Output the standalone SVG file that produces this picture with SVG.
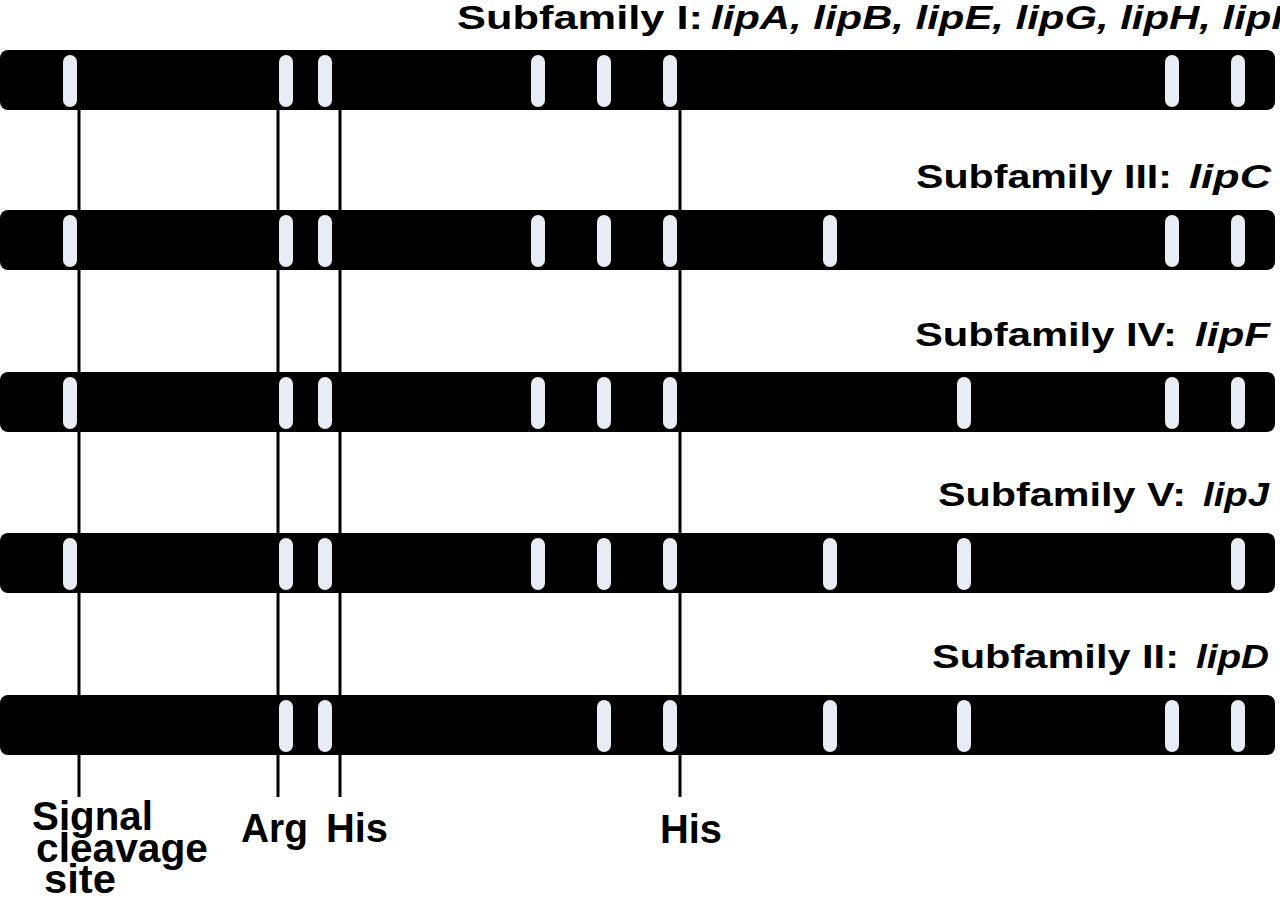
<svg xmlns="http://www.w3.org/2000/svg" width="1280" height="898" viewBox="0 0 1280 898">
<defs>
<style>
.bar{fill:#000}
.st{fill:#e8ecf4}
.lbl{font-family:"Liberation Sans",Arial,sans-serif;font-weight:bold;font-size:34px;fill:#000}
.it{font-style:italic}
.bl{font-family:"Liberation Sans",Arial,sans-serif;font-weight:bold;font-size:40px;fill:#000}
.ln{stroke:#000;stroke-width:3;fill:none}
</style>
<rect id="s" class="st" x="-7" y="5" width="14" height="52" rx="7"/>
</defs>
<rect width="1280" height="898" fill="#fff"/>
<g id="connectors">
<line class="ln" x1="79" y1="108" x2="79" y2="797"/>
<line class="ln" x1="278" y1="108" x2="278" y2="797"/>
<line class="ln" x1="340" y1="108" x2="340" y2="797"/>
<line class="ln" x1="680" y1="108" x2="680" y2="797"/>
</g>
<g id="bar1" transform="translate(0,50)">
<rect class="bar" x="0" y="0" width="1275" height="60" rx="8"/>
<use href="#s" x="70"/><use href="#s" x="286"/><use href="#s" x="325"/><use href="#s" x="538"/><use href="#s" x="604"/><use href="#s" x="670"/><use href="#s" x="1172"/><use href="#s" x="1238"/>
</g>
<g id="label1">
<text class="lbl" x="457" y="29" textLength="246" lengthAdjust="spacingAndGlyphs">Subfamily I:</text>
<text class="lbl it" x="711" y="29" textLength="572" lengthAdjust="spacingAndGlyphs">lipA, lipB, lipE, lipG, lipH, lipI</text>
</g>
<g id="bar2" transform="translate(0,210)">
<rect class="bar" x="0" y="0" width="1275" height="60" rx="8"/>
<use href="#s" x="70"/><use href="#s" x="286"/><use href="#s" x="325"/><use href="#s" x="538"/><use href="#s" x="604"/><use href="#s" x="670"/><use href="#s" x="830"/><use href="#s" x="1172"/><use href="#s" x="1238"/>
</g>
<g id="label2">
<text class="lbl" x="916" y="188" textLength="256" lengthAdjust="spacingAndGlyphs">Subfamily III:</text>
<text class="lbl it" x="1189" y="188" textLength="82" lengthAdjust="spacingAndGlyphs">lipC</text>
</g>
<g id="bar3" transform="translate(0,372)">
<rect class="bar" x="0" y="0" width="1275" height="60" rx="8"/>
<use href="#s" x="70"/><use href="#s" x="286"/><use href="#s" x="325"/><use href="#s" x="538"/><use href="#s" x="604"/><use href="#s" x="670"/><use href="#s" x="964"/><use href="#s" x="1172"/><use href="#s" x="1238"/>
</g>
<g id="label3">
<text class="lbl" x="915" y="346" textLength="262" lengthAdjust="spacingAndGlyphs">Subfamily IV:</text>
<text class="lbl it" x="1195" y="346" textLength="75" lengthAdjust="spacingAndGlyphs">lipF</text>
</g>
<g id="bar4" transform="translate(0,533)">
<rect class="bar" x="0" y="0" width="1275" height="60" rx="8"/>
<use href="#s" x="70"/><use href="#s" x="286"/><use href="#s" x="325"/><use href="#s" x="538"/><use href="#s" x="604"/><use href="#s" x="670"/><use href="#s" x="830"/><use href="#s" x="964"/><use href="#s" x="1238"/>
</g>
<g id="label4">
<text class="lbl" x="938" y="506" textLength="248" lengthAdjust="spacingAndGlyphs">Subfamily V:</text>
<text class="lbl it" x="1203" y="506" textLength="66" lengthAdjust="spacingAndGlyphs">lipJ</text>
</g>
<g id="bar5" transform="translate(0,695)">
<rect class="bar" x="0" y="0" width="1275" height="60" rx="8"/>
<use href="#s" x="286"/><use href="#s" x="325"/><use href="#s" x="604"/><use href="#s" x="670"/><use href="#s" x="830"/><use href="#s" x="964"/><use href="#s" x="1172"/><use href="#s" x="1238"/>
</g>
<g id="label5">
<text class="lbl" x="932" y="668" textLength="247" lengthAdjust="spacingAndGlyphs">Subfamily II:</text>
<text class="lbl it" x="1196" y="668" textLength="73" lengthAdjust="spacingAndGlyphs">lipD</text>
</g>
<g id="bottom-labels">
<text class="bl" x="32" y="830" textLength="121" lengthAdjust="spacingAndGlyphs">Signal</text>
<text class="bl" x="36" y="862" textLength="172" lengthAdjust="spacingAndGlyphs">cleavage</text>
<text class="bl" x="44" y="893" textLength="72" lengthAdjust="spacingAndGlyphs">site</text>
<text class="bl" x="241" y="842" textLength="67" lengthAdjust="spacingAndGlyphs">Arg</text>
<text class="bl" x="326" y="842" textLength="62" lengthAdjust="spacingAndGlyphs">His</text>
<text class="bl" x="660" y="843" textLength="62" lengthAdjust="spacingAndGlyphs">His</text>
</g>
</svg>
